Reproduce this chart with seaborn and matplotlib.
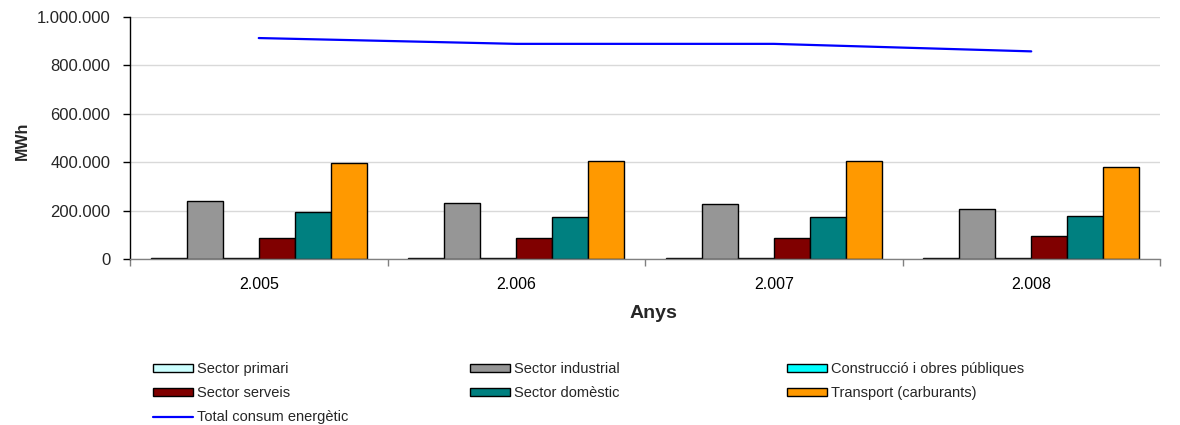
import matplotlib
matplotlib.use("Agg")
import matplotlib.pyplot as plt
import seaborn as sns
import pandas as pd
from matplotlib.patches import Patch
from matplotlib.lines import Line2D
from matplotlib.ticker import FixedLocator, FuncFormatter

years = ["2.005", "2.006", "2.007", "2.008"]
sectors = ["Sector primari", "Sector industrial", "Construcció i obres públiques",
           "Sector serveis", "Sector domèstic", "Transport (carburants)"]
primari = [3000, 3000, 3000, 3000]
industrial = [240000, 230000, 226000, 208000]
construccio = [3000, 3000, 3000, 3000]
serveis = [87000, 85000, 87000, 94000]
domestic = [193000, 172000, 172000, 176000]
transport = [397000, 404000, 405000, 381000]
total = [913000, 889000, 889000, 858000]
total_label = "Total consum energètic"
colors = ["#CCFFFF", "#969696", "#00FFFF", "#800000", "#008080", "#FF9900"]
line_color = "#0000FF"

series = [primari, industrial, construccio, serveis, domestic, transport]
rows = []
for s, vals in zip(sectors, series):
    for y, v in zip(years, vals):
        rows.append({"Any": y, "MWh": v, "Sector": s})
df = pd.DataFrame(rows)

sns.set_style("white")
plt.rcParams["font.family"] = ["Liberation Sans", "DejaVu Sans"]

fig = plt.figure(figsize=(11.8, 4.25), dpi=100)
ax = fig.add_axes([130 / 1180, 1 - 259 / 425, 1030 / 1180, 242 / 425])

sns.barplot(data=df, x="Any", y="MWh", hue="Sector", order=years, hue_order=sectors,
            palette=colors, saturation=1, width=0.84, gap=0, edgecolor="black",
            linewidth=1.0, errorbar=None, legend=False, ax=ax, zorder=2)
sns.pointplot(x=years, y=total, order=years, color=line_color, markers="",
              linestyles="-", linewidth=1.6, errorbar=None, ax=ax, zorder=3)

ax.set_xlim(-0.5, 3.5)
ax.set_ylim(0, 1000000)
ax.set_yticks([0, 200000, 400000, 600000, 800000, 1000000])
ax.yaxis.set_major_formatter(FuncFormatter(lambda v, p: f"{v:,.0f}".replace(",", ".")))
ax.grid(axis="y", color="#d9d9d9", linewidth=1.0, zorder=0)
ax.set_axisbelow(True)

ax.xaxis.set_minor_locator(FixedLocator([-0.5, 0.5, 1.5, 2.5, 3.5]))
ax.tick_params(axis="x", which="major", length=0, pad=13, labelsize=11.5, colors="black")
ax.tick_params(axis="x", which="minor", length=5, width=1, color="#808080", bottom=True)
ax.tick_params(axis="y", which="major", length=5, width=1, color="black", pad=9,
               labelsize=12, left=True)

for side in ["top", "right"]:
    ax.spines[side].set_visible(False)
ax.spines["left"].set_color("black")
ax.spines["left"].set_linewidth(1.0)
ax.spines["bottom"].set_color("#808080")
ax.spines["bottom"].set_linewidth(1.0)
ax.set_xlabel("")
ax.set_ylabel("")

fig.text(22 / 1180, 1 - 141 / 425, "MWh", rotation=90, ha="center", va="center",
         fontsize=11.5, fontweight="bold")
fig.text(653 / 1180, 1 - 313 / 425, "Anys", ha="center", va="center",
         fontsize=14, fontweight="bold")

patches = [Patch(facecolor=c, edgecolor="black", linewidth=1.0, label=s)
           for s, c in zip(sectors, colors)]
line_handle = Line2D([], [], color=line_color, linewidth=1.6, label=total_label)
columns = [
    ([patches[0], patches[3], line_handle], 153),
    ([patches[1], patches[4]], 470),
    ([patches[2], patches[5]], 787),
]
for handles, xpx in columns:
    leg = fig.legend(handles=handles, loc="upper left",
                     bbox_to_anchor=(xpx / 1180, 1 - 362 / 425),
                     frameon=False, borderpad=0, borderaxespad=0,
                     handlelength=2.75, handleheight=0.5, handletextpad=0.3,
                     labelspacing=0.7, fontsize=10.5)

fig.savefig("out.png", dpi=100)
